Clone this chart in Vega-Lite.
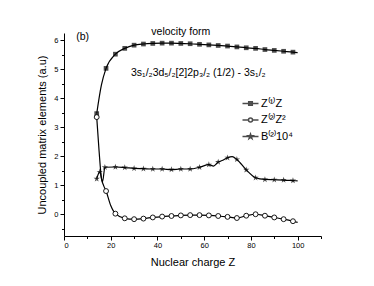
{
  "$schema": "https://vega.github.io/schema/vega-lite/v6.json",
  "autosize": "none",
  "width": 257,
  "height": 203,
  "padding": {"left": 64, "top": 33, "right": 53, "bottom": 50},
  "background": "white",
  "config": {
    "view": {"stroke": null},
    "font": "Liberation Sans",
    "axis": {"grid": false, "domainColor": "black", "tickColor": "black", "labelColor": "black", "titleColor": "black", "labelFont": "Liberation Sans", "titleFont": "Liberation Sans", "titleFontWeight": "normal", "labelFontSize": 7.5, "titleFontSize": 11, "domainWidth": 1, "tickWidth": 1}
  },
  "datasets": {
    "curve": [
      {"series": "Z⁽¹⁾Z", "Z": 14, "v": 3.47}, {"series": "Z⁽¹⁾Z", "Z": 16, "v": 4.45}, {"series": "Z⁽¹⁾Z", "Z": 18, "v": 5.03},
      {"series": "Z⁽¹⁾Z", "Z": 22, "v": 5.52}, {"series": "Z⁽¹⁾Z", "Z": 26, "v": 5.72}, {"series": "Z⁽¹⁾Z", "Z": 30, "v": 5.83},
      {"series": "Z⁽¹⁾Z", "Z": 34, "v": 5.87}, {"series": "Z⁽¹⁾Z", "Z": 38, "v": 5.89}, {"series": "Z⁽¹⁾Z", "Z": 42, "v": 5.9},
      {"series": "Z⁽¹⁾Z", "Z": 46, "v": 5.9}, {"series": "Z⁽¹⁾Z", "Z": 50, "v": 5.89}, {"series": "Z⁽¹⁾Z", "Z": 54, "v": 5.88},
      {"series": "Z⁽¹⁾Z", "Z": 58, "v": 5.86}, {"series": "Z⁽¹⁾Z", "Z": 62, "v": 5.84}, {"series": "Z⁽¹⁾Z", "Z": 66, "v": 5.82},
      {"series": "Z⁽¹⁾Z", "Z": 70, "v": 5.8}, {"series": "Z⁽¹⁾Z", "Z": 74, "v": 5.77}, {"series": "Z⁽¹⁾Z", "Z": 78, "v": 5.74},
      {"series": "Z⁽¹⁾Z", "Z": 82, "v": 5.72}, {"series": "Z⁽¹⁾Z", "Z": 86, "v": 5.68}, {"series": "Z⁽¹⁾Z", "Z": 90, "v": 5.65},
      {"series": "Z⁽¹⁾Z", "Z": 94, "v": 5.62}, {"series": "Z⁽¹⁾Z", "Z": 98, "v": 5.59}, {"series": "Z⁽¹⁾Z", "Z": 100, "v": 5.57},
      {"series": "Z⁽²⁾Z²", "Z": 14, "v": 3.35}, {"series": "Z⁽²⁾Z²", "Z": 15, "v": 2.2}, {"series": "Z⁽²⁾Z²", "Z": 16, "v": 1.25},
      {"series": "Z⁽²⁾Z²", "Z": 17, "v": 0.98}, {"series": "Z⁽²⁾Z²", "Z": 18, "v": 0.8}, {"series": "Z⁽²⁾Z²", "Z": 20, "v": 0.3},
      {"series": "Z⁽²⁾Z²", "Z": 22, "v": 0.02}, {"series": "Z⁽²⁾Z²", "Z": 26, "v": -0.14}, {"series": "Z⁽²⁾Z²", "Z": 30, "v": -0.17},
      {"series": "Z⁽²⁾Z²", "Z": 34, "v": -0.15}, {"series": "Z⁽²⁾Z²", "Z": 38, "v": -0.11}, {"series": "Z⁽²⁾Z²", "Z": 42, "v": -0.08},
      {"series": "Z⁽²⁾Z²", "Z": 46, "v": -0.06}, {"series": "Z⁽²⁾Z²", "Z": 50, "v": -0.04}, {"series": "Z⁽²⁾Z²", "Z": 54, "v": -0.03},
      {"series": "Z⁽²⁾Z²", "Z": 58, "v": -0.03}, {"series": "Z⁽²⁾Z²", "Z": 62, "v": -0.04}, {"series": "Z⁽²⁾Z²", "Z": 66, "v": -0.06},
      {"series": "Z⁽²⁾Z²", "Z": 70, "v": -0.09}, {"series": "Z⁽²⁾Z²", "Z": 74, "v": -0.13}, {"series": "Z⁽²⁾Z²", "Z": 78, "v": -0.05},
      {"series": "Z⁽²⁾Z²", "Z": 82, "v": 0.0}, {"series": "Z⁽²⁾Z²", "Z": 86, "v": -0.05}, {"series": "Z⁽²⁾Z²", "Z": 90, "v": -0.11},
      {"series": "Z⁽²⁾Z²", "Z": 94, "v": -0.17}, {"series": "Z⁽²⁾Z²", "Z": 98, "v": -0.24}, {"series": "Z⁽²⁾Z²", "Z": 100, "v": -0.28},
      {"series": "B⁽²⁾10⁴", "Z": 14, "v": 1.22}, {"series": "B⁽²⁾10⁴", "Z": 15.3, "v": 1.46}, {"series": "B⁽²⁾10⁴", "Z": 16.5, "v": 1.12},
      {"series": "B⁽²⁾10⁴", "Z": 17.5, "v": 1.62}, {"series": "B⁽²⁾10⁴", "Z": 22, "v": 1.63}, {"series": "B⁽²⁾10⁴", "Z": 26, "v": 1.61},
      {"series": "B⁽²⁾10⁴", "Z": 30, "v": 1.58}, {"series": "B⁽²⁾10⁴", "Z": 34, "v": 1.57}, {"series": "B⁽²⁾10⁴", "Z": 38, "v": 1.56},
      {"series": "B⁽²⁾10⁴", "Z": 42, "v": 1.56}, {"series": "B⁽²⁾10⁴", "Z": 46, "v": 1.54}, {"series": "B⁽²⁾10⁴", "Z": 50, "v": 1.56},
      {"series": "B⁽²⁾10⁴", "Z": 54, "v": 1.56}, {"series": "B⁽²⁾10⁴", "Z": 58, "v": 1.62}, {"series": "B⁽²⁾10⁴", "Z": 62, "v": 1.71},
      {"series": "B⁽²⁾10⁴", "Z": 64, "v": 1.66}, {"series": "B⁽²⁾10⁴", "Z": 66, "v": 1.8}, {"series": "B⁽²⁾10⁴", "Z": 68, "v": 1.86},
      {"series": "B⁽²⁾10⁴", "Z": 70, "v": 1.95}, {"series": "B⁽²⁾10⁴", "Z": 72, "v": 1.99}, {"series": "B⁽²⁾10⁴", "Z": 74, "v": 1.89},
      {"series": "B⁽²⁾10⁴", "Z": 78, "v": 1.53}, {"series": "B⁽²⁾10⁴", "Z": 82, "v": 1.26}, {"series": "B⁽²⁾10⁴", "Z": 86, "v": 1.2},
      {"series": "B⁽²⁾10⁴", "Z": 90, "v": 1.19}, {"series": "B⁽²⁾10⁴", "Z": 94, "v": 1.18}, {"series": "B⁽²⁾10⁴", "Z": 98, "v": 1.16},
      {"series": "B⁽²⁾10⁴", "Z": 100, "v": 1.15}
    ],
    "markers": [
      {"series": "Z⁽¹⁾Z", "Z": 14, "v": 3.47}, {"series": "Z⁽¹⁾Z", "Z": 18, "v": 5.03}, {"series": "Z⁽¹⁾Z", "Z": 22, "v": 5.52},
      {"series": "Z⁽¹⁾Z", "Z": 26, "v": 5.72}, {"series": "Z⁽¹⁾Z", "Z": 30, "v": 5.83}, {"series": "Z⁽¹⁾Z", "Z": 34, "v": 5.87},
      {"series": "Z⁽¹⁾Z", "Z": 38, "v": 5.89}, {"series": "Z⁽¹⁾Z", "Z": 42, "v": 5.9}, {"series": "Z⁽¹⁾Z", "Z": 46, "v": 5.9},
      {"series": "Z⁽¹⁾Z", "Z": 50, "v": 5.89}, {"series": "Z⁽¹⁾Z", "Z": 54, "v": 5.88}, {"series": "Z⁽¹⁾Z", "Z": 58, "v": 5.86},
      {"series": "Z⁽¹⁾Z", "Z": 62, "v": 5.84}, {"series": "Z⁽¹⁾Z", "Z": 66, "v": 5.82}, {"series": "Z⁽¹⁾Z", "Z": 70, "v": 5.8},
      {"series": "Z⁽¹⁾Z", "Z": 74, "v": 5.77}, {"series": "Z⁽¹⁾Z", "Z": 78, "v": 5.74}, {"series": "Z⁽¹⁾Z", "Z": 82, "v": 5.72},
      {"series": "Z⁽¹⁾Z", "Z": 86, "v": 5.68}, {"series": "Z⁽¹⁾Z", "Z": 90, "v": 5.65}, {"series": "Z⁽¹⁾Z", "Z": 94, "v": 5.62},
      {"series": "Z⁽¹⁾Z", "Z": 98, "v": 5.59},
      {"series": "Z⁽²⁾Z²", "Z": 14, "v": 3.35}, {"series": "Z⁽²⁾Z²", "Z": 18, "v": 0.8}, {"series": "Z⁽²⁾Z²", "Z": 22, "v": 0.02},
      {"series": "Z⁽²⁾Z²", "Z": 26, "v": -0.14}, {"series": "Z⁽²⁾Z²", "Z": 30, "v": -0.17}, {"series": "Z⁽²⁾Z²", "Z": 34, "v": -0.15},
      {"series": "Z⁽²⁾Z²", "Z": 38, "v": -0.11}, {"series": "Z⁽²⁾Z²", "Z": 42, "v": -0.08}, {"series": "Z⁽²⁾Z²", "Z": 46, "v": -0.06},
      {"series": "Z⁽²⁾Z²", "Z": 50, "v": -0.04}, {"series": "Z⁽²⁾Z²", "Z": 54, "v": -0.03}, {"series": "Z⁽²⁾Z²", "Z": 58, "v": -0.03},
      {"series": "Z⁽²⁾Z²", "Z": 62, "v": -0.04}, {"series": "Z⁽²⁾Z²", "Z": 66, "v": -0.06}, {"series": "Z⁽²⁾Z²", "Z": 70, "v": -0.09},
      {"series": "Z⁽²⁾Z²", "Z": 74, "v": -0.13}, {"series": "Z⁽²⁾Z²", "Z": 78, "v": -0.05}, {"series": "Z⁽²⁾Z²", "Z": 82, "v": 0.0},
      {"series": "Z⁽²⁾Z²", "Z": 86, "v": -0.05}, {"series": "Z⁽²⁾Z²", "Z": 90, "v": -0.11}, {"series": "Z⁽²⁾Z²", "Z": 94, "v": -0.17},
      {"series": "Z⁽²⁾Z²", "Z": 98, "v": -0.24},
      {"series": "B⁽²⁾10⁴", "Z": 14, "v": 1.22}, {"series": "B⁽²⁾10⁴", "Z": 15.3, "v": 1.46}, {"series": "B⁽²⁾10⁴", "Z": 17.5, "v": 1.62},
      {"series": "B⁽²⁾10⁴", "Z": 22, "v": 1.63}, {"series": "B⁽²⁾10⁴", "Z": 26, "v": 1.61}, {"series": "B⁽²⁾10⁴", "Z": 30, "v": 1.58},
      {"series": "B⁽²⁾10⁴", "Z": 34, "v": 1.57}, {"series": "B⁽²⁾10⁴", "Z": 38, "v": 1.56}, {"series": "B⁽²⁾10⁴", "Z": 42, "v": 1.56},
      {"series": "B⁽²⁾10⁴", "Z": 46, "v": 1.54}, {"series": "B⁽²⁾10⁴", "Z": 50, "v": 1.56}, {"series": "B⁽²⁾10⁴", "Z": 54, "v": 1.56},
      {"series": "B⁽²⁾10⁴", "Z": 58, "v": 1.62}, {"series": "B⁽²⁾10⁴", "Z": 62, "v": 1.71}, {"series": "B⁽²⁾10⁴", "Z": 66, "v": 1.8},
      {"series": "B⁽²⁾10⁴", "Z": 70, "v": 1.95}, {"series": "B⁽²⁾10⁴", "Z": 74, "v": 1.89}, {"series": "B⁽²⁾10⁴", "Z": 78, "v": 1.53},
      {"series": "B⁽²⁾10⁴", "Z": 82, "v": 1.26}, {"series": "B⁽²⁾10⁴", "Z": 86, "v": 1.2}, {"series": "B⁽²⁾10⁴", "Z": 90, "v": 1.19},
      {"series": "B⁽²⁾10⁴", "Z": 94, "v": 1.18}, {"series": "B⁽²⁾10⁴", "Z": 98, "v": 1.16}
    ],
    "notes": [
      {"label": "velocity  form", "Z": 50, "v": 6.3},
      {"label": "(b)", "Z": 8, "v": 6.12},
      {"label": "3s₁/₂3d₅/₂[2]2p₃/₂ (1/2) - 3s₁/₂", "Z": 57.5, "v": 4.88}
    ]
  },
  "encoding": {
    "x": {"field": "Z", "type": "quantitative", "scale": {"domain": [0, 110], "nice": false},
      "axis": {"title": "Nuclear charge Z", "values": [0, 10, 20, 30, 40, 50, 60, 70, 80, 90, 100, 110],
        "labelExpr": "datum.value % 20 === 0 && datum.value <= 100 ? datum.label : ''",
        "tickSize": {"condition": {"test": "datum.value % 20 === 0", "value": 4}, "value": 2.5},
        "labelPadding": 1, "titlePadding": 8}},
    "y": {"field": "v", "type": "quantitative", "scale": {"domain": [-0.75, 6.25], "nice": false, "zero": false},
      "axis": {"title": "Uncoupled matrix elements (a.u)", "values": [-0.5, 0, 0.5, 1, 1.5, 2, 2.5, 3, 3.5, 4, 4.5, 5, 5.5, 6],
        "format": ".0f",
        "labelExpr": "datum.value % 1 === 0 ? datum.label : ''",
        "tickSize": {"condition": {"test": "datum.value % 1 === 0", "value": 4}, "value": 2.5},
        "labelPadding": 2, "titlePadding": 6}}
  },
  "layer": [
    {
      "data": {"name": "curve"},
      "mark": {"type": "line", "interpolate": "monotone", "color": "black", "strokeWidth": 1.2},
      "encoding": {"detail": {"field": "series"}}
    },
    {
      "data": {"name": "markers"},
      "transform": [{"filter": "datum.series === 'Z⁽¹⁾Z'"}],
      "mark": {"type": "point", "shape": "square", "filled": true, "color": "black", "size": 22}
    },
    {
      "data": {"name": "markers"},
      "transform": [{"filter": "datum.series === 'Z⁽²⁾Z²'"}],
      "mark": {"type": "point", "shape": "circle", "filled": true, "fill": "white", "stroke": "black", "strokeWidth": 0.9, "size": 24, "opacity": 1}
    },
    {
      "data": {"name": "markers"},
      "transform": [{"filter": "datum.series === 'B⁽²⁾10⁴'"}],
      "mark": {"type": "point", "shape": "M0,-1L0.2245,-0.309L0.951,-0.309L0.363,0.118L0.588,0.809L0,0.382L-0.588,0.809L-0.363,0.118L-0.951,-0.309L-0.2245,-0.309Z", "filled": true, "color": "black", "size": 44}
    },
    {
      "data": {"name": "markers"},
      "transform": [{"filter": "false"}],
      "mark": {"type": "point", "filled": true, "stroke": "black", "strokeWidth": 1},
      "encoding": {
        "shape": {"field": "series", "type": "nominal",
          "scale": {"domain": ["Z⁽¹⁾Z", "Z⁽²⁾Z²", "B⁽²⁾10⁴"],
            "range": ["M-2,0H2M-0.45,-0.45H0.45V0.45H-0.45Z",
                      "M-2,0H-0.5M0.5,0H2M-0.5,0A0.5,0.5,0,1,0,0.5,0A0.5,0.5,0,1,0,-0.5,0Z",
                      "M-2,0H2M0,-0.6L0.14,-0.19L0.57,-0.19L0.22,0.07L0.35,0.49L0,0.23L-0.35,0.49L-0.22,0.07L-0.57,-0.19L-0.14,-0.19Z"]},
          "legend": {"title": null, "orient": "none", "legendX": 181, "legendY": 65, "symbolSize": 64, "labelFontSize": 11, "labelColor": "black", "labelFont": "Liberation Sans", "rowPadding": 4.5, "labelOffset": 5,
            "encode": {"symbols": {"update": {"stroke": {"value": "black"}, "strokeWidth": {"value": 1}, "opacity": {"value": 1}}}}}},
        "fill": {"field": "series", "type": "nominal",
          "scale": {"domain": ["Z⁽¹⁾Z", "Z⁽²⁾Z²", "B⁽²⁾10⁴"], "range": ["black", "white", "black"]},
          "legend": {"title": null, "orient": "none", "legendX": 181, "legendY": 65, "symbolSize": 64, "labelFontSize": 11, "labelColor": "black", "labelFont": "Liberation Sans", "rowPadding": 4.5, "labelOffset": 5,
            "encode": {"symbols": {"update": {"stroke": {"value": "black"}, "strokeWidth": {"value": 1}, "opacity": {"value": 1}}}}}}
      }
    },
    {
      "data": {"name": "notes"},
      "mark": {"type": "text", "fontSize": 10.5, "font": "Liberation Sans", "fill": "black", "align": "center", "baseline": "middle"},
      "encoding": {"text": {"field": "label", "type": "nominal"}}
    }
  ]
}
